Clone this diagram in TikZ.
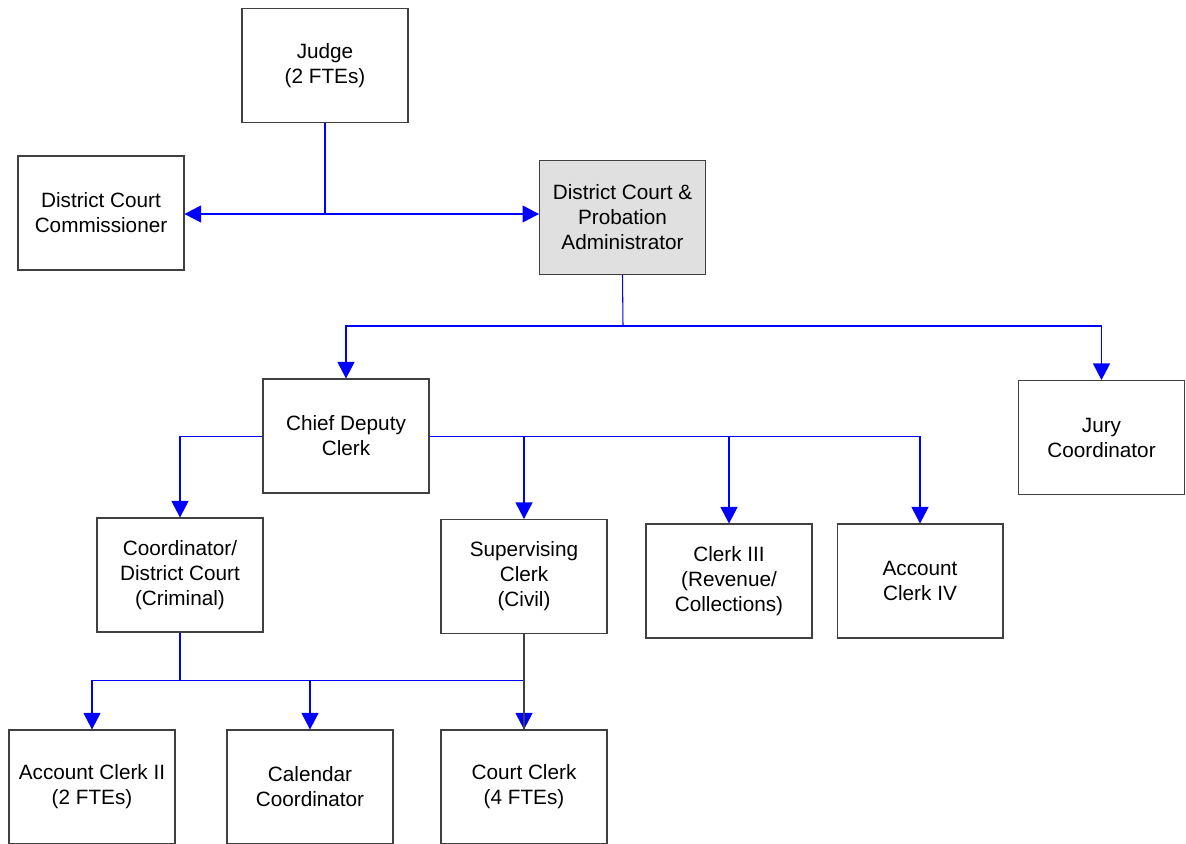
\documentclass[tikz,border=0pt]{standalone}
\usepackage{fontspec}
\setmainfont{Liberation Sans}
\usepackage{tikz}
\usetikzlibrary{positioning}
\usetikzlibrary{shapes.geometric, arrows, arrows.meta}

\tikzset{
  post/.style={draw=black!75, line width=0.6pt, fill=white, minimum width=3.32cm,
    minimum height=2.28cm, inner sep=0pt, align=center,
    font=\fontsize{11.8}{14.2}\selectfont},
  lead/.style={post, fill=black!12},
  link/.style={draw=blue, line width=0.6pt},
  arr/.style={link, -{Triangle[length=0.33cm,width=0.34cm]}},
  darr/.style={link, {Triangle[length=0.33cm,width=0.34cm]}-{Triangle[length=0.33cm,width=0.34cm]}}
}

\begin{document}
\begin{tikzpicture}[x=0.02cm, y=-0.02cm]
\useasboundingbox (0,0) rectangle (1186,844);

% Top level
\node[post] (judge) at (325,65.5) {Judge\\(2 FTEs)};
\node[post] (comm) at (101,213) {District Court\\Commissioner};
\node[lead] (admin) at (622.5,217.5) {District Court \&\\Probation\\Administrator};

% Second level
\node[post] (chief) at (346,436) {Chief Deputy\\Clerk};
\node[post] (jury) at (1101.5,437.5) {Jury\\Coordinator};

% Third level
\node[post] (coord) at (180,575) {Coordinator/\\District Court\\(Criminal)};
\node[post] (superv) at (524,576.5) {Supervising\\Clerk\\(Civil)};
\node[post] (clerk3) at (729,581) {Clerk III\\(Revenue/\\Collections)};
\node[post] (acct4) at (920,581) {Account\\Clerk IV};

% Bottom level
\node[post] (acct2) at (92,787) {Account Clerk II\\(2 FTEs)};
\node[post] (calendar) at (310,787) {Calendar\\Coordinator};
\node[post] (court) at (524,787) {Court Clerk\\(4 FTEs)};

% Bus points
\coordinate (jbus) at (325,214);
\coordinate (abus) at (623,326);
\coordinate (cbus) at (180,680.5);

% Judge
\draw[link] (judge.south) -- (jbus);
\draw[darr] (comm.east |- jbus) -- (admin.west |- jbus);

% Administrator
\draw[link] (admin.south) -- (abus);
\draw[arr] (abus) -| (chief.north);
\draw[arr] (abus) -| (jury.north);

% Chief Deputy Clerk
\draw[arr] (chief.west |- 0,436.5) -| (coord.north);
\draw[arr] (chief.east |- 0,436.5) -| (superv.north);
\draw[arr] (chief.east |- 0,436.5) -| (clerk3.north);
\draw[arr] (chief.east |- 0,436.5) -| (acct4.north);

% Coordinator
\draw[link] (coord.south) -- (cbus);
\draw[arr] (cbus) -| (acct2.north);
\draw[arr] (cbus) -| (calendar.north);
\draw[arr] (cbus) -| (court.north);

% Supervising Clerk
\draw[draw=black!75, line width=0.6pt] (superv.south) -- (court.north);

\end{tikzpicture}
\end{document}
